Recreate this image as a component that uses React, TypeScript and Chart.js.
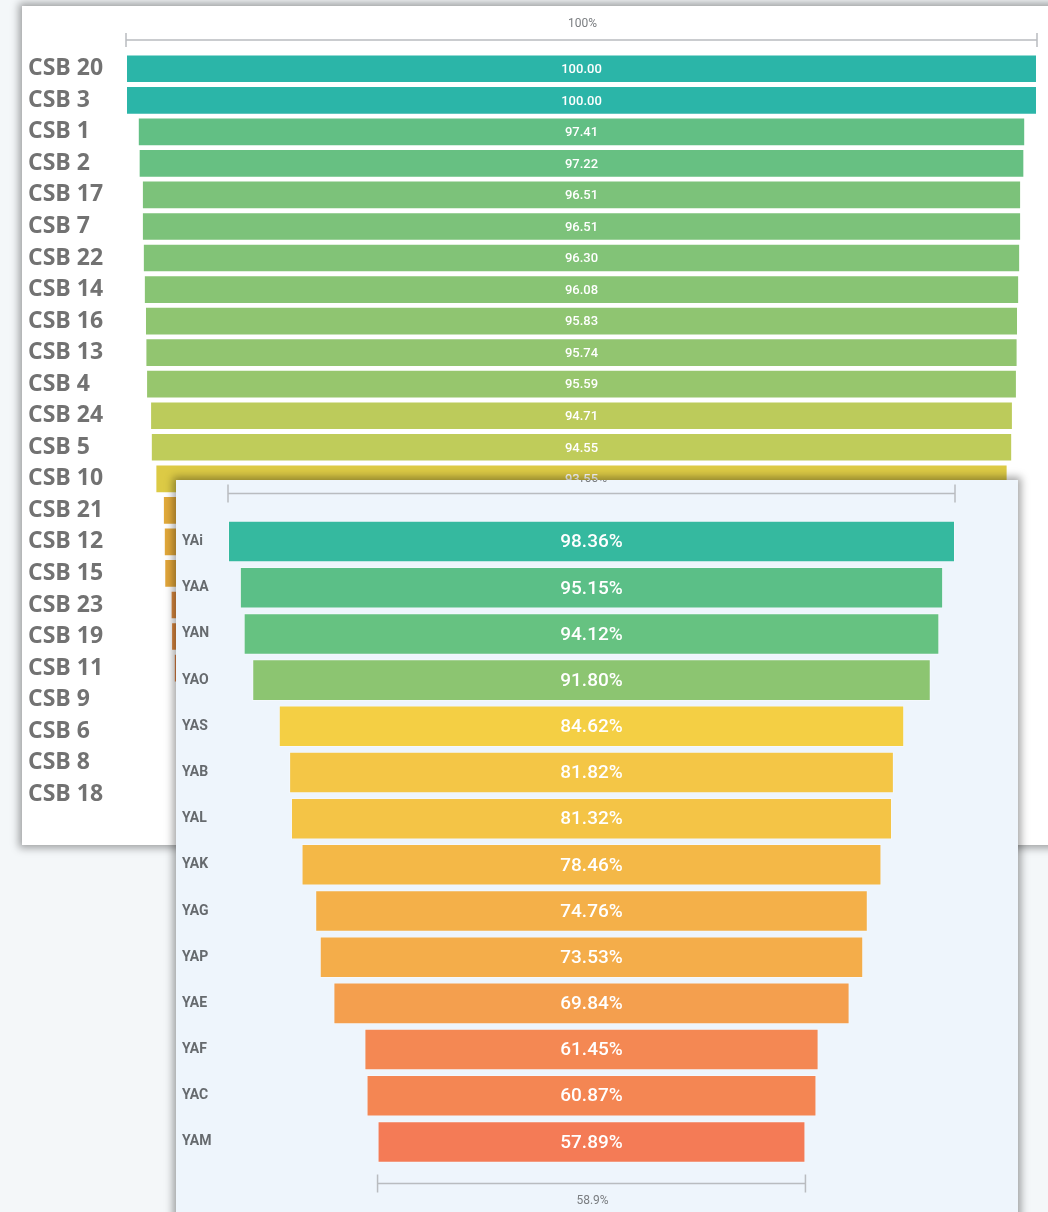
import React, { useEffect, useRef } from "react";
import Chart from "chart.js/auto";

// ---------- Data: panel 1 (CSB) ----------
const csbLabels = [
  "CSB 20", "CSB 3", "CSB 1", "CSB 2", "CSB 17", "CSB 7", "CSB 22", "CSB 14",
  "CSB 16", "CSB 13", "CSB 4", "CSB 24", "CSB 5", "CSB 10", "CSB 21", "CSB 12",
  "CSB 15", "CSB 23", "CSB 19", "CSB 11", "CSB 9", "CSB 6", "CSB 8", "CSB 18",
];
const csbValues = [
  100.0, 100.0, 97.41, 97.22, 96.51, 96.51, 96.3, 96.08, 95.83, 95.74, 95.59,
  94.71, 94.55, 93.55, 91.9, 91.7, 91.6, 90.2, 90.1, 89.5, 88.6, 87.5, 86.2, 84.0,
];
const csbColors = [
  "#2bb5a8", "#2bb5a8", "#62bf84", "#67c082", "#7cc27a", "#7cc27a", "#82c377",
  "#88c474", "#8fc571", "#92c570", "#97c66d", "#bccb5b", "#bfcc5a", "#dcca45",
  "#e2aa3a", "#e2a83a", "#e2a63a", "#dc8a3f", "#dc883f", "#dd7f40", "#de7a42",
  "#df7543", "#e07044", "#e06b45",
];
const csbTopTick = "100%";

// ---------- Data: panel 2 (YA) ----------
const yaLabels = [
  "YAi", "YAA", "YAN", "YAO", "YAS", "YAB", "YAL", "YAK", "YAG", "YAP", "YAE",
  "YAF", "YAC", "YAM",
];
const yaValues = [
  98.36, 95.15, 94.12, 91.8, 84.62, 81.82, 81.32, 78.46, 74.76, 73.53, 69.84,
  61.45, 60.87, 57.89,
];
const yaColors = [
  "#35b99f", "#5bbf87", "#66c281", "#8cc571", "#f4cf44", "#f4c646", "#f4c446",
  "#f4b847", "#f4b049", "#f4ad4a", "#f49f4e", "#f48853", "#f48653", "#f47b56",
];
const yaTopTick = "100%";

type FunnelOpts = {
  labels: string[];
  values: number[];
  colors: string[];
  width: number;
  height: number;
  padding: { left: number; right: number; top: number; bottom: number };
  axisWidth: number;
  labelFont: { family: string; size: number; weight: any };
  labelColor: string;
  barPercentage: number;
  valueFont: string;
  fmt: (v: number) => string;
  topTick: string;
  topBracketDy: number;
  topLabelDy: number;
  bottomBracket: boolean;
  bottomBracketDy?: number;
  bottomLabelDy?: number;
  tickFont: string;
  tickHalf: number;
};

function buildFunnel(canvas: HTMLCanvasElement, o: FunnelOpts) {
  const maxV = Math.max(...o.values);
  const lastV = o.values[o.values.length - 1];

  const drawBracket = (ctx: CanvasRenderingContext2D, x1: number, x2: number, y: number) => {
    ctx.strokeStyle = "#b9bcc0";
    ctx.lineWidth = 1.5;
    ctx.beginPath();
    ctx.moveTo(x1, y);
    ctx.lineTo(x2, y);
    ctx.moveTo(x1, y - o.tickHalf);
    ctx.lineTo(x1, y + o.tickHalf);
    ctx.moveTo(x2, y - o.tickHalf);
    ctx.lineTo(x2, y + o.tickHalf);
    ctx.stroke();
  };

  const decor = {
    id: "funnelDecor",
    afterDatasetsDraw(chart: any) {
      const { ctx, chartArea, scales } = chart;
      const xs = scales.x;
      const cx = xs.getPixelForValue(0);
      const meta = chart.getDatasetMeta(0);
      ctx.save();
      ctx.fillStyle = "#ffffff";
      ctx.font = o.valueFont;
      ctx.textAlign = "center";
      ctx.textBaseline = "middle";
      meta.data.forEach((el: any, i: number) => {
        ctx.fillText(o.fmt(o.values[i]), cx, el.y + 1);
      });
      // top bracket
      const tx1 = xs.getPixelForValue(-maxV / 2);
      const tx2 = xs.getPixelForValue(maxV / 2);
      drawBracket(ctx, tx1, tx2, chartArea.top + o.topBracketDy);
      ctx.fillStyle = "#7a7d80";
      ctx.font = o.tickFont;
      ctx.fillText(o.topTick, cx + 1, chartArea.top + o.topLabelDy);
      if (o.bottomBracket) {
        const bx1 = xs.getPixelForValue(-lastV / 2);
        const bx2 = xs.getPixelForValue(lastV / 2);
        drawBracket(ctx, bx1, bx2, chartArea.bottom + (o.bottomBracketDy || 0));
        ctx.fillText(
          ((lastV / maxV) * 100).toFixed(1) + "%",
          cx + 1,
          chartArea.bottom + (o.bottomLabelDy || 0)
        );
      }
      ctx.restore();
    },
  };

  return new Chart(canvas, {
    type: "bar",
    data: {
      labels: o.labels,
      datasets: [
        {
          data: o.values.map((v) => [-v / 2, v / 2]) as any,
          backgroundColor: o.colors,
          borderColor: "rgba(255,255,255,0.35)",
          borderWidth: 1,
          borderSkipped: false,
          barPercentage: o.barPercentage,
          categoryPercentage: 1,
        },
      ],
    },
    options: {
      indexAxis: "y",
      responsive: false,
      animation: false,
      maintainAspectRatio: false,
      layout: { padding: o.padding },
      plugins: {
        legend: { display: false },
        tooltip: { enabled: false },
      },
      scales: {
        x: {
          display: false,
          min: -maxV / 2,
          max: maxV / 2,
        },
        y: {
          grid: { display: false },
          border: { display: false },
          ticks: {
            autoSkip: false,
            crossAlign: "far",
            color: o.labelColor,
            font: o.labelFont,
            padding: 0,
          },
          afterFit: (scale: any) => {
            scale.width = o.axisWidth;
          },
        },
      },
    },
    plugins: [decor],
  });
}

function Funnel(props: { opts: FunnelOpts; style: React.CSSProperties }) {
  const ref = useRef<HTMLCanvasElement | null>(null);
  useEffect(() => {
    if (!ref.current) return;
    const ch = buildFunnel(ref.current, props.opts);
    return () => ch.destroy();
  }, []);
  return (
    <canvas
      ref={ref}
      width={props.opts.width}
      height={props.opts.height}
      style={{ display: "block", width: props.opts.width, height: props.opts.height, ...props.style }}
    />
  );
}

const opts1: FunnelOpts = {
  labels: csbLabels,
  values: csbValues,
  colors: csbColors,
  width: 1026,
  height: 839,
  padding: { left: 6, right: 11, top: 47, bottom: 35 },
  axisWidth: 98,
  labelFont: { family: "'Open Sans', 'DejaVu Sans', sans-serif", size: 23, weight: "bold" },
  labelColor: "#727272",
  barPercentage: 0.91,
  valueFont: "500 13px Roboto, 'DejaVu Sans', sans-serif",
  fmt: (v) => v.toFixed(2),
  topTick: csbTopTick,
  topBracketDy: -13,
  topLabelDy: -29,
  bottomBracket: false,
  tickFont: "12px Roboto, 'DejaVu Sans', sans-serif",
  tickHalf: 7,
};

const opts2: FunnelOpts = {
  labels: yaLabels,
  values: yaValues,
  colors: yaColors,
  width: 842,
  height: 732,
  padding: { left: 6, right: 63, top: 38.5, bottom: 47 },
  axisWidth: 46,
  labelFont: { family: "Roboto, 'DejaVu Sans', sans-serif", size: 14, weight: "bold" },
  labelColor: "#666a6e",
  barPercentage: 0.9,
  valueFont: "500 19px Roboto, 'DejaVu Sans', sans-serif",
  fmt: (v) => v.toFixed(2) + "%",
  topTick: yaTopTick,
  topBracketDy: -25,
  topLabelDy: -39.5,
  bottomBracket: true,
  bottomBracketDy: 18.5,
  bottomLabelDy: 36,
  tickFont: "12px Roboto, 'DejaVu Sans', sans-serif",
  tickHalf: 9,
};

export default function App() {
  return (
    <div
      style={{
        position: "absolute",
        left: 0,
        top: 0,
        width: 1048,
        height: 1212,
        overflow: "hidden",
        background: "#f4f7f9",
      }}
    >
      <div
        style={{
          position: "absolute",
          left: 22,
          top: 6,
          width: 1060,
          height: 839,
          background: "#ffffff",
          boxShadow: "0 0 8px 3px rgba(0,0,0,0.36)",
        }}
      >
        <Funnel opts={opts1} style={{ position: "absolute", left: 0, top: 0 }} />
      </div>
      <div
        style={{
          position: "absolute",
          left: 176,
          top: 480,
          width: 842,
          height: 760,
          background: "#eef5fc",
          boxShadow: "0 0 8px 3px rgba(0,0,0,0.36)",
        }}
      >
        <Funnel opts={opts2} style={{ position: "absolute", left: 0, top: 0 }} />
      </div>
    </div>
  );
}
